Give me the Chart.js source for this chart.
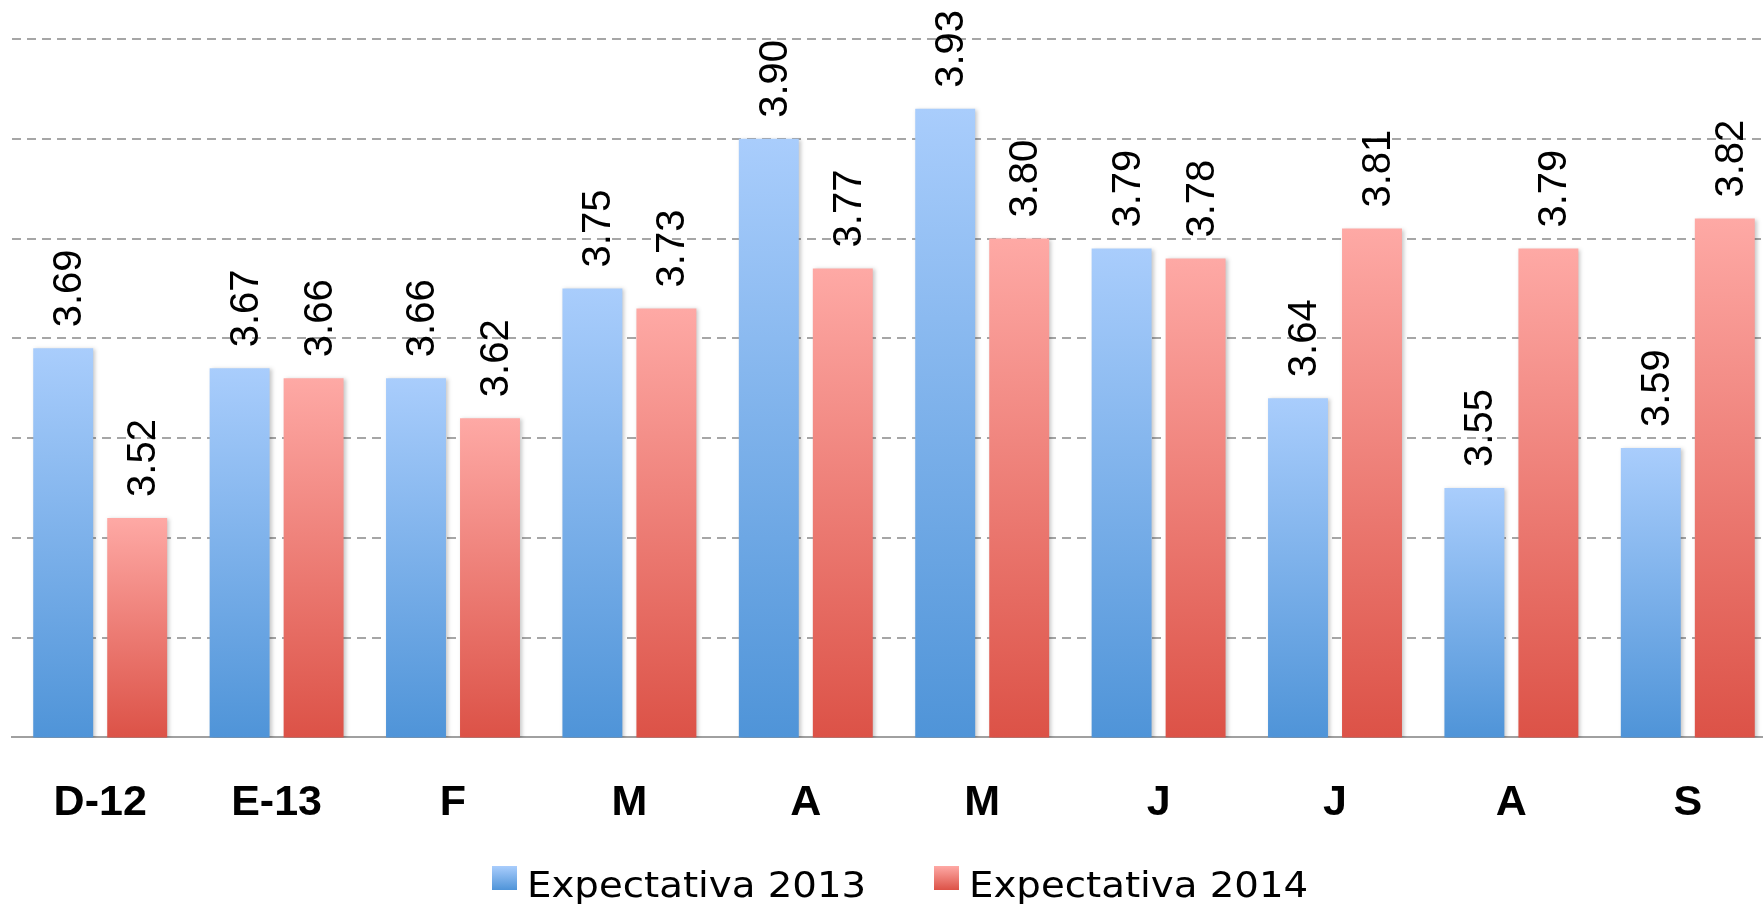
<!DOCTYPE html>
<html>
<head>
<meta charset="utf-8">
<script src="https://cdn.jsdelivr.net/npm/chart.js@4.4.1/dist/chart.umd.min.js"></script>
<style>
  html, body { margin: 0; padding: 0; background: #fff; overflow: hidden; }
  /* plot runs a little past the right edge in the original, so the box is wider than the window */
  #wrap { width: 1778px; height: 907px; }
</style>
</head>
<body>
<div id="wrap"><canvas id="chart"></canvas></div>
<script>
const months = ['D-12', 'E-13', 'F', 'M', 'A', 'M', 'J', 'J', 'A', 'S'];
const expectativa2013 = [3.69, 3.67, 3.66, 3.75, 3.90, 3.93, 3.79, 3.64, 3.55, 3.59];
const expectativa2014 = [3.52, 3.66, 3.62, 3.73, 3.77, 3.80, 3.78, 3.81, 3.79, 3.82];
const seriesNames = ['Expectativa 2013', 'Expectativa 2014'];
const yMin = 3.3;
const yMax = 4.0;
const yStep = 0.1;

const blueTop = '#a9cdfc', blueBottom = '#4f94d8';
const redTop = '#fea9a5', redBottom = '#dc5247';

// per-bar vertical gradient, light at the top and dark at the base
function barGradient(top, bottom) {
    return function (c) {
        const chart = c.chart;
        const y = chart.scales.y;
        if (c.type !== 'data' || !y) return bottom;
        const yTop = y.getPixelForValue(c.raw);
        const yBase = y.getPixelForValue(y.min);
        if (!isFinite(yTop) || !isFinite(yBase) || yTop === yBase) return bottom;
        const g = chart.ctx.createLinearGradient(0, yTop, 0, yBase);
        g.addColorStop(0, top);
        g.addColorStop(1, bottom);
        return g;
    };
}

// soft shadow under the bars + rotated value labels on top
const barExtras = {
    id: 'barExtras',
    beforeDatasetsDraw(chart) {
        const ctx = chart.ctx;
        ctx.save();
        ctx.shadowColor = 'rgba(0,0,0,0.22)';
        ctx.shadowBlur = 4;
        ctx.shadowOffsetX = 2;
        ctx.shadowOffsetY = 1;
    },
    afterDatasetsDraw(chart) {
        const ctx = chart.ctx;
        ctx.restore();
        ctx.save();
        ctx.fillStyle = '#000';
        ctx.font = '40px "Liberation Sans", Arial, sans-serif';
        ctx.textAlign = 'left';
        ctx.textBaseline = 'alphabetic';
        chart.data.datasets.forEach((ds, i) => {
            const meta = chart.getDatasetMeta(i);
            meta.data.forEach((bar, j) => {
                ctx.save();
                ctx.translate(bar.x + 18, bar.y - 21);
                ctx.rotate(-Math.PI / 2);
                ctx.fillText(ds.data[j].toFixed(2), 0, 0);
                ctx.restore();
            });
        });
        ctx.restore();
    }
};

// legend under the axis labels
const bottomLegend = {
    id: 'bottomLegend',
    afterDraw(chart) {
        const ctx = chart.ctx;
        const colors = [[blueTop, blueBottom], [redTop, redBottom]];
        const starts = [chart.chartArea.left + 480, chart.chartArea.left + 922];
        const boxTop = 866, boxH = 24, boxW = 25;
        ctx.save();
        seriesNames.forEach((name, i) => {
            const x = starts[i];
            const g = ctx.createLinearGradient(0, boxTop, 0, boxTop + boxH);
            g.addColorStop(0, colors[i][0]);
            g.addColorStop(1, colors[i][1]);
            ctx.fillStyle = g;
            ctx.fillRect(x, boxTop, boxW, boxH);
            ctx.save();
            ctx.translate(x + 35, 897);
            ctx.scale(1.075, 1);
            ctx.fillStyle = '#000';
            ctx.font = '36px "DejaVu Sans", sans-serif';
            ctx.textBaseline = 'alphabetic';
            ctx.fillText(name, 0, 0);
            ctx.restore();
        });
        ctx.restore();
    }
};

new Chart(document.getElementById('chart'), {
    type: 'bar',
    data: {
        labels: months,
        datasets: [
            { label: seriesNames[0], data: expectativa2013, backgroundColor: barGradient(blueTop, blueBottom) },
            { label: seriesNames[1], data: expectativa2014, backgroundColor: barGradient(redTop, redBottom) }
        ]
    },
    options: {
        responsive: true,
        maintainAspectRatio: false,
        animation: false,
        categoryPercentage: 0.839,
        barPercentage: 0.81,
        layout: { padding: { left: 12, right: 2, top: 39, bottom: 38 } },
        plugins: {
            legend: { display: false },
            tooltip: { enabled: false }
        },
        scales: {
            x: {
                grid: { display: false, drawTicks: false },
                border: { display: true, color: '#a0a0a0', width: 2 },
                ticks: {
                    color: '#000',
                    padding: 40,
                    font: { family: '"Liberation Sans", Arial, sans-serif', size: 43, weight: 'bold' }
                }
            },
            y: {
                min: yMin,
                max: yMax,
                ticks: { display: false, stepSize: yStep },
                grid: { color: '#a6a6a6', lineWidth: 2, drawTicks: false },
                border: { display: false, dash: [9, 6] }
            }
        }
    },
    plugins: [barExtras, bottomLegend]
});
</script>
</body>
</html>
